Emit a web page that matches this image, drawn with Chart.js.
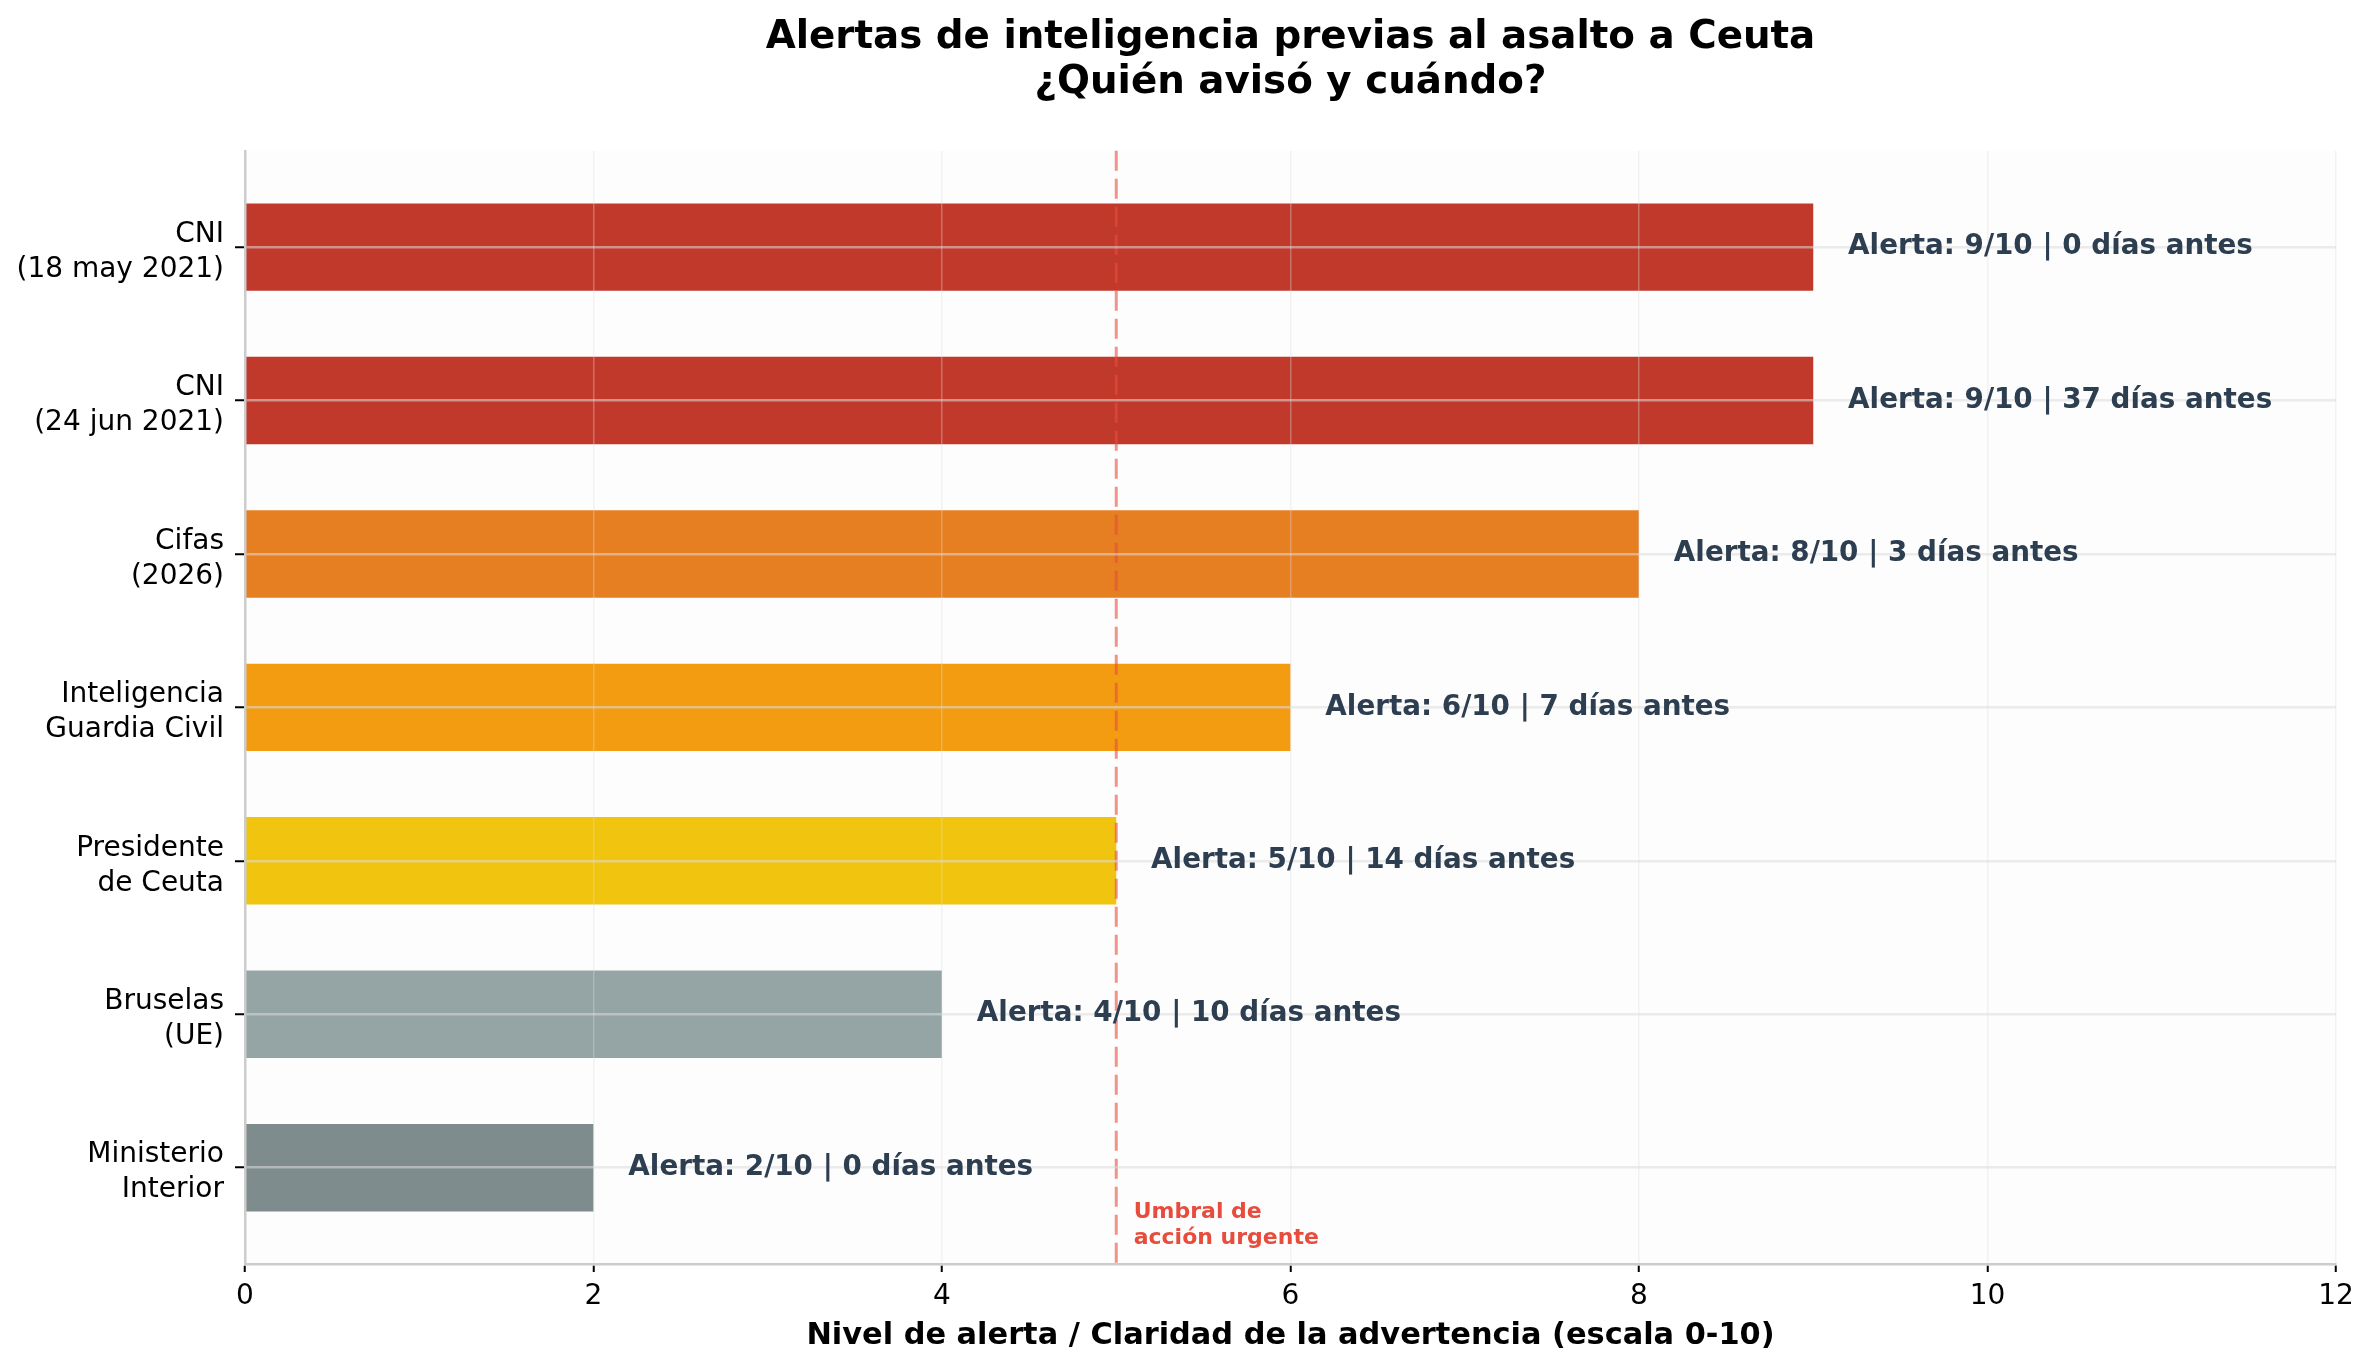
<!DOCTYPE html>
<html><head><meta charset="utf-8">
<script src="https://cdn.jsdelivr.net/npm/chart.js@4.4.1/dist/chart.umd.min.js"></script>
<style>html,body{margin:0;padding:0;background:#fff;} canvas{display:block;}</style>
</head><body>
<canvas id="c" width="2373" height="1372"></canvas>
<script>
const titleLines = ["Alertas de inteligencia previas al asalto a Ceuta", "¿Quién avisó y cuándo?"];
const categories = [["CNI","(18 may 2021)"],["CNI","(24 jun 2021)"],["Cifas","(2026)"],["Inteligencia","Guardia Civil"],["Presidente","de Ceuta"],["Bruselas","(UE)"],["Ministerio","Interior"]];
const alertLevels = [9, 9, 8, 6, 5, 4, 2];
const daysBefore = [0, 37, 3, 7, 14, 10, 0];
const barColors = ["#c0392b","#c0392b","#e67e22","#f39c12","#f1c40f","#95a5a6","#7f8c8d"];
const xAxisTitle = "Nivel de alerta / Claridad de la advertencia (escala 0-10)";
const threshold = 5;
const thresholdLabel = ["Umbral de", "acción urgente"];
const FONT = "DejaVu Sans";

const overlay = {
  id: 'overlay',
  beforeDraw(chart) {
    const {ctx, chartArea: a} = chart;
    ctx.save();
    ctx.fillStyle = '#fdfdfd';
    ctx.fillRect(a.left, a.top, a.right - a.left, a.bottom - a.top);
    ctx.restore();
  },
  afterDatasetsDraw(chart) {
    const {ctx, chartArea: a, scales: {x}} = chart;
    ctx.save();
    const tx = x.getPixelForValue(threshold);
    ctx.strokeStyle = 'rgba(231,76,60,0.6)';
    ctx.lineWidth = 3;
    ctx.setLineDash([20, 8]);
    ctx.beginPath(); ctx.moveTo(tx, a.top); ctx.lineTo(tx, a.bottom); ctx.stroke();
    ctx.restore();
  },
  afterDraw(chart) {
    const {ctx, scales: {x, y}} = chart;
    ctx.save();
    ctx.font = `bold 27.8px "${FONT}"`;
    ctx.fillStyle = '#2c3e50';
    ctx.textBaseline = 'middle';
    ctx.textAlign = 'left';
    alertLevels.forEach((v, i) => {
      ctx.fillText(`Alerta: ${v}/10 | ${daysBefore[i]} días antes`, x.getPixelForValue(v + 0.2), y.getPixelForValue(i));
    });
    ctx.font = `bold 22px "${FONT}"`;
    ctx.fillStyle = '#e74c3c';
    thresholdLabel.forEach((t, k) => {
      ctx.fillText(t, x.getPixelForValue(threshold + 0.1), y.getPixelForValue(6.29 + k * 0.17));
    });
    ctx.restore();
  }
};

new Chart(document.getElementById('c'), {
  type: 'bar',
  data: {
    datasets: [{
      data: alertLevels.map((v, i) => ({x: v, y: i})),
      backgroundColor: barColors,
      borderWidth: 0,
      barPercentage: 0.57,
      categoryPercentage: 1
    }]
  },
  options: {
    indexAxis: 'y',
    responsive: false,
    devicePixelRatio: 1,
    animation: false,
    layout: {padding: {top: 0, left: 0, right: 37, bottom: 18}},
    plugins: {
      legend: {display: false},
      tooltip: {enabled: false},
      title: {
        display: true,
        text: titleLines,
        fullSize: false,
        color: '#000',
        font: {family: FONT, size: 38.8, weight: 'bold', lineHeight: 1.17},
        padding: {top: 15, bottom: 45}
      }
    },
    scales: {
      x: {
        type: 'linear', position: 'bottom', min: 0, max: 12,
        ticks: {stepSize: 2, color: '#000', font: {family: FONT, size: 28}, padding: 8},
        grid: {color: 'rgba(221,221,221,0.35)', lineWidth: 1.5, z: 1, tickColor: '#000', tickLength: 8, tickWidth: 2},
        border: {color: '#cccccc', width: 2.5, z: 1},
        title: {display: true, text: xAxisTitle, color: '#000', font: {family: FONT, size: 30.4, weight: 'bold'}, padding: 0},
        afterFit(s) { s.height = 90; }
      },
      y: {
        type: 'linear', reverse: true, min: -0.628, max: 6.628, offset: false,
        afterBuildTicks(s) { s.ticks = categories.map((_, i) => ({value: i})); },
        ticks: {
          color: '#000', font: {family: FONT, size: 28, lineHeight: 1.25}, padding: 11, labelOffset: 5,
          callback: (v) => categories[v]
        },
        grid: {offset: false, color: 'rgba(221,221,221,0.55)', lineWidth: 2.5, z: 1, tickColor: '#000', tickLength: 10, tickWidth: 2},
        border: {color: '#cccccc', width: 2.5, z: 1},
        afterFit(s) { s.width = 245; }
      }
    }
  },
  plugins: [overlay]
});
</script></body></html>
